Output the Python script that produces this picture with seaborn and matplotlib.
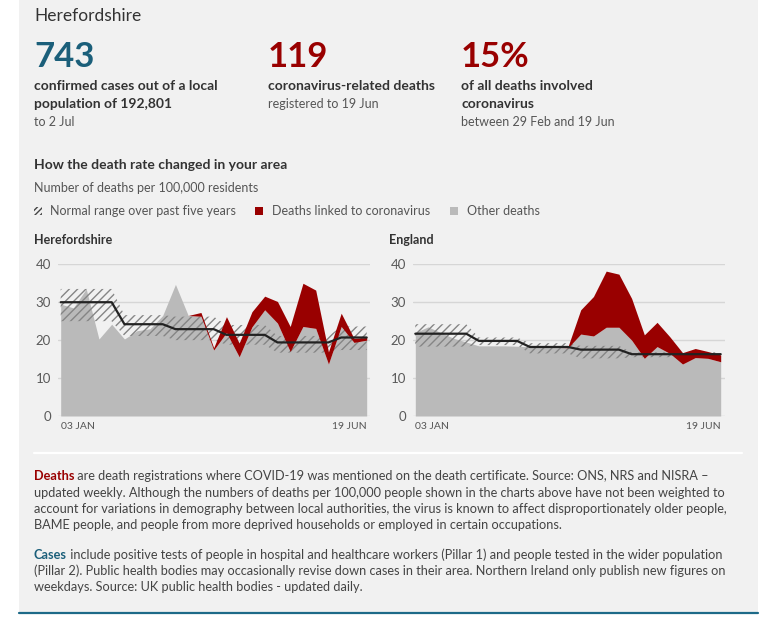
import matplotlib
matplotlib.use("Agg")
import matplotlib.pyplot as plt
from matplotlib.patches import Rectangle
from matplotlib.lines import Line2D
import seaborn as sns
import numpy as np

# weekly registrations, 03 Jan .. 19 Jun (25 weeks)
week_labels = ["03 JAN", "19 JUN"]

# Herefordshire, deaths per 100,000
other_h = [29.5, 28.5, 33.5, 20.3, 24.2, 20.3, 22.5, 23.0, 26.5, 34.7, 26.5, 26.3, 17.4,
           22.0, 15.6, 23.5, 28.0, 24.5, 17.0, 23.6, 23.1, 13.7, 23.6, 19.4, 20.0]
covid_h = [0, 0, 0, 0, 0, 0, 0, 0, 0, 0, 0, 1.0, 0.6,
           4.2, 3.6, 4.0, 3.6, 5.7, 6.6, 11.4, 10.1, 3.2, 3.5, 1.1, 0.7]
normal_h = [30.0, 30.0, 30.0, 30.0, 30.0, 24.2, 24.2, 24.2, 24.2, 22.9, 22.9, 22.9, 22.9,
            21.4, 21.4, 21.4, 21.4, 19.4, 19.4, 19.4, 19.4, 19.4, 20.7, 20.7, 20.7]
low_h = [25.0, 25.0, 25.0, 25.0, 25.0, 21.1, 21.1, 21.1, 21.1, 20.0, 20.0, 20.0, 20.0,
         18.8, 18.8, 18.8, 18.8, 16.7, 16.7, 16.7, 16.7, 16.7, 17.4, 17.4, 17.4]
high_h = [33.5, 33.5, 33.5, 33.5, 33.5, 26.6, 26.6, 26.6, 26.6, 26.2, 26.2, 26.2, 26.2,
          24.0, 24.0, 24.0, 24.0, 21.1, 21.1, 21.1, 21.1, 21.1, 23.6, 23.6, 23.6]

# England, deaths per 100,000
other_e = [22.0, 23.5, 22.0, 20.5, 19.5, 18.5, 18.5, 18.5, 18.4, 18.3, 18.2, 18.1, 18.0,
           21.6, 21.1, 23.4, 23.4, 20.0, 15.2, 18.3, 16.5, 13.7, 15.4, 15.2, 14.3]
covid_e = [0, 0, 0, 0, 0, 0, 0, 0, 0, 0, 0, 0.2, 0.3,
           6.4, 10.4, 14.8, 14.0, 11.0, 6.2, 6.4, 4.4, 3.0, 2.4, 1.8, 1.8]
normal_e = [21.7, 21.7, 21.7, 21.7, 21.7, 19.8, 19.8, 19.8, 19.8, 18.2, 18.2, 18.2, 18.2,
            17.5, 17.5, 17.5, 17.5, 16.3, 16.3, 16.3, 16.3, 16.3, 16.3, 16.3, 16.3]
low_e = [18.3, 18.3, 18.3, 18.3, 18.3, 18.7, 18.7, 18.7, 18.7, 16.5, 16.5, 16.5, 16.5,
         15.2, 15.2, 15.2, 15.2, 15.5, 15.5, 15.5, 15.5, 15.5, 15.5, 15.5, 15.5]
high_e = [24.2, 24.2, 24.2, 24.2, 24.2, 20.7, 20.7, 20.7, 20.7, 19.2, 19.2, 19.2, 19.2,
          18.5, 18.5, 18.5, 18.5, 16.8, 16.8, 16.8, 16.8, 16.8, 16.8, 16.8, 16.8]

W, H = 768, 626
GREY_AREA = "#bababa"
RED = "#990000"
TEAL = "#1b5f7a"
PANEL = "#f1f1f1"
DARK = "#333333"
MID = "#555555"

sns.set_theme(style="white")
plt.rcParams["font.family"] = ["Lato", "DejaVu Sans"]
plt.rcParams["hatch.linewidth"] = 1.0


def fx(x):
    return x / W


def fy(y):
    return 1 - y / H


def txt(x, y, s, size, color=DARK, weight="normal", ha="left"):
    return fig.text(fx(x), fy(y), s, fontsize=size, color=color,
                    fontweight=weight, ha=ha, va="center")


fig = plt.figure(figsize=(W / 100, H / 100), dpi=100, facecolor="white")
fig.patches.append(Rectangle((fx(19), fy(613)), fx(758) - fx(19), 1 - fy(613),
                             transform=fig.transFigure, facecolor=PANEL,
                             edgecolor="none", zorder=-5))
fig.lines.append(Line2D([fx(19), fx(758)], [fy(613), fy(613)], transform=fig.transFigure,
                        color="#1d6a88", lw=1.6))
fig.lines.append(Line2D([fx(34), fx(742)], [fy(453), fy(453)], transform=fig.transFigure,
                        color="white", lw=1.6))

# header
txt(34, 16, "Herefordshire", 12.5, color=DARK)
txt(34, 57, "743", 25, color=TEAL, weight="bold")
txt(268, 57, "119", 25, color=RED, weight="bold")
txt(461, 57, "15%", 25, color=RED, weight="bold")
txt(34, 86, "confirmed cases out of a local", 10, weight="bold")
txt(34, 104, "population of 192,801", 10, weight="bold")
txt(34, 122, "to 2 Jul", 9, color=MID)
txt(268, 86, "coronavirus-related deaths", 10, weight="bold")
txt(268, 104, "registered to 19 Jun", 9, color=MID)
txt(461, 86, "of all deaths involved", 10, weight="bold")
txt(461, 104, "coronavirus", 10, weight="bold")
txt(461, 122, "between 29 Feb and 19 Jun", 9, color=MID)

txt(34, 165, "How the death rate changed in your area", 10, weight="bold")
txt(34, 188, "Number of deaths per 100,000 residents", 9, color=MID)

# legend
fig.patches.append(Rectangle((fx(34), fy(215)), fx(8), fx(8) * W / H,
                             transform=fig.transFigure, facecolor="none",
                             edgecolor="#444444", hatch="//////", lw=0))
txt(50, 211, "Normal range over past five years", 9, color=MID)
fig.patches.append(Rectangle((fx(255), fy(215)), fx(8), fx(8) * W / H,
                             transform=fig.transFigure, facecolor=RED, lw=0))
txt(272, 211, "Deaths linked to coronavirus", 9, color=MID)
fig.patches.append(Rectangle((fx(450), fy(215)), fx(8), fx(8) * W / H,
                             transform=fig.transFigure, facecolor=GREY_AREA, lw=0))
txt(467, 211, "Other deaths", 9, color=MID)


def panel(left, right, first_px, last_px, title, other, covid, normal, low, high):
    top, bottom = 264.3, 416.0
    ax = fig.add_axes([fx(left), fy(bottom), fx(right) - fx(left), (bottom - top) / H])
    ax.set_facecolor("none")
    x = np.arange(len(other))
    other = np.array(other)
    total = other + np.array(covid)
    step = (last_px - first_px) / (len(x) - 1)

    ax.fill_between(x, 0, other, color=GREY_AREA, lw=0, zorder=2)
    ax.fill_between(x, low, high, facecolor="none", edgecolor="#858585",
                    hatch="////", lw=0, zorder=3)
    ax.fill_between(x, other, total, where=total > other + 0.05, interpolate=True,
                    color=RED, lw=0, zorder=4)
    sns.lineplot(x=x, y=normal, ax=ax, color="#222222", lw=1.6, zorder=5)

    ax.set_xlim(-(first_px - left) / step, len(x) - 1 + (right - last_px) / step)
    ax.set_ylim(0, 40)
    ax.set_yticks([0, 10, 20, 30, 40])
    ax.grid(axis="y", color="#d6d6d6", lw=1, zorder=0)
    ax.set_axisbelow(True)
    ax.set_xticks([0, len(x) - 1], week_labels)
    for lbl, ha in zip(ax.get_xticklabels(), ["left", "right"]):
        lbl.set_ha(ha)
    ax.tick_params(axis="x", length=0, pad=4, labelsize=7.5, labelcolor=MID)
    ax.tick_params(axis="y", length=0, pad=5, labelsize=9.5, labelcolor="#5a5a5a")
    for s in ax.spines.values():
        s.set_visible(False)
    txt(left - 24, 240, title, 9, weight="bold")
    return ax


panel(58, 370, 60.7, 366.7, "Herefordshire", other_h, covid_h, normal_h, low_h, high_h)
panel(413, 725, 415.3, 720.7, "England", other_e, covid_e, normal_e, low_e, high_e)

# footnotes
renderer = fig.canvas.get_renderer()
FOOT = 9.2


def rich_line(y, head, rest, head_color):
    t = txt(34, y, head, FOOT, color=head_color, weight="bold")
    w = t.get_window_extent(renderer).width
    txt(34 + w, y, rest, FOOT, color="#444444")


rich_line(476, "Deaths", " are death registrations where COVID-19 was mentioned on the death "
          "certificate. Source: ONS, NRS and NISRA –", RED)
txt(34, 493, "updated weekly. Although the numbers of deaths per 100,000 people shown in the "
    "charts above have not been weighted to", FOOT, color="#444444")
txt(34, 509, "account for variations in demography between local authorities, the virus is "
    "known to affect disproportionately older people,", FOOT, color="#444444")
txt(34, 525, "BAME people, and people from more deprived households or employed in certain "
    "occupations.", FOOT, color="#444444")
rich_line(555, "Cases", " include positive tests of people in hospital and healthcare workers "
          "(Pillar 1) and people tested in the wider population", TEAL)
txt(34, 571, "(Pillar 2). Public health bodies may occasionally revise down cases in their "
    "area. Northern Ireland only publish new figures on", FOOT, color="#444444")
txt(34, 587, "weekdays. Source: UK public health bodies - updated daily.", FOOT, color="#444444")

fig.savefig("out.png", dpi=100, facecolor="white")
